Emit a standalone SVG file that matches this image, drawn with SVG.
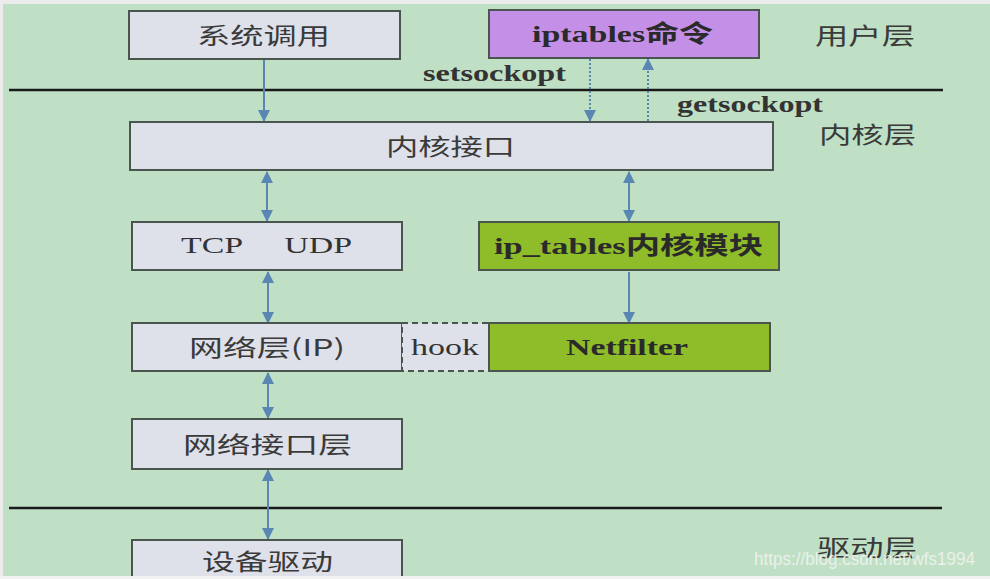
<svg xmlns="http://www.w3.org/2000/svg" width="990" height="579" viewBox="0 0 990 579">
<defs>
<marker id="ah" viewBox="0 0 12 12" refX="11" refY="6" markerWidth="12" markerHeight="13" markerUnits="userSpaceOnUse" orient="auto-start-reverse">
<path d="M0,0 L12,6 L0,12 Z" fill="#5a86b4"/>
</marker>
</defs>
<style>
.box{fill:#dfe1ea;stroke:#4a5550;stroke-width:2}
.purple{fill:#c48fe6;stroke:#4a5550;stroke-width:2}
.green{fill:#8fbd2a;stroke:#4a5550;stroke-width:2}
.zh{font-family:"Noto Sans CJK SC","Liberation Serif",serif;font-size:23px;fill:#3a3a3a}
.en{font-family:"Liberation Serif",serif;font-size:23px;fill:#333}
.b{font-family:"Liberation Serif","Noto Sans CJK SC",serif;font-size:24px;font-weight:bold;fill:#2a2a2a}
.conn{stroke:#5a86b4;stroke-width:2;fill:none}
.dot{stroke:#5a86b4;stroke-width:2;fill:none;stroke-dasharray:2 2}
.sep{stroke:#1a1a1a;stroke-width:2.5}
</style>
<rect x="0" y="0" width="990" height="579" fill="#ececec"/>
<rect x="3" y="4" width="987" height="572" fill="#bfe0c4"/>

<g id="separators">
<line class="sep" x1="9" y1="90" x2="943" y2="90"/>
<line class="sep" x1="9" y1="508" x2="942" y2="508"/>
</g>

<g id="layer-labels">
<text class="zh" x="815" y="44" textLength="100" lengthAdjust="spacingAndGlyphs">用户层</text>
<text class="zh" x="819" y="143" textLength="97" lengthAdjust="spacingAndGlyphs">内核层</text>
<text class="zh" x="817" y="556" textLength="100" lengthAdjust="spacingAndGlyphs">驱动层</text>
</g>

<g id="connectors">
<line class="conn" x1="264" y1="60" x2="264" y2="121" marker-end="url(#ah)"/>
<line class="dot" x1="590" y1="59" x2="590" y2="121" marker-end="url(#ah)"/>
<line class="dot" x1="648" y1="121" x2="648" y2="59" marker-end="url(#ah)"/>
<line class="conn" x1="267" y1="172" x2="267" y2="221" marker-start="url(#ah)" marker-end="url(#ah)"/>
<line class="conn" x1="629" y1="172" x2="629" y2="221" marker-start="url(#ah)" marker-end="url(#ah)"/>
<line class="conn" x1="268" y1="272" x2="268" y2="323" marker-start="url(#ah)" marker-end="url(#ah)"/>
<line class="conn" x1="629" y1="272" x2="629" y2="323" marker-end="url(#ah)"/>
<line class="conn" x1="268" y1="373" x2="268" y2="418" marker-start="url(#ah)" marker-end="url(#ah)"/>
<line class="conn" x1="268" y1="470" x2="268" y2="539" marker-start="url(#ah)" marker-end="url(#ah)"/>
<text class="en" x="423" y="81" font-weight="bold" textLength="143" lengthAdjust="spacingAndGlyphs">setsockopt</text>
<text class="en" x="677" y="112" font-weight="bold" textLength="146" lengthAdjust="spacingAndGlyphs">getsockopt</text>
</g>

<g id="syscall">
<rect class="box" x="129" y="11" width="271" height="48"/>
<text class="zh" x="197" y="44" textLength="133" lengthAdjust="spacingAndGlyphs">系统调用</text>
</g>

<g id="iptables-cmd">
<rect class="purple" x="489" y="10" width="270" height="48"/>
<text class="b" x="532" y="42" textLength="181" lengthAdjust="spacingAndGlyphs">iptables命令</text>
</g>

<g id="kernel-interface">
<rect class="box" x="130" y="122" width="643" height="48"/>
<text class="zh" x="386" y="155" textLength="129" lengthAdjust="spacingAndGlyphs">内核接口</text>
</g>

<g id="tcp-udp">
<rect class="box" x="132" y="222" width="270" height="48"/>
<text class="en" x="181" y="253" textLength="171" lengthAdjust="spacingAndGlyphs" xml:space="preserve">TCP     UDP</text>
</g>

<g id="ip-tables-module">
<rect class="green" x="479" y="222" width="300" height="48"/>
<text class="b" x="494" y="254" textLength="269" lengthAdjust="spacingAndGlyphs">ip_tables内核模块</text>
</g>

<g id="network-layer">
<rect class="box" x="132" y="323" width="270" height="48"/>
<text class="zh" x="189" y="356" textLength="156" lengthAdjust="spacingAndGlyphs">网络层(IP)</text>
</g>

<g id="hook">
<rect x="402" y="323" width="87" height="48" fill="#dfe1ea" stroke="#4a5550" stroke-width="2" stroke-dasharray="6 4"/>
<text class="en" x="411" y="355" textLength="68" lengthAdjust="spacingAndGlyphs">hook</text>
</g>

<g id="netfilter">
<rect class="green" x="489" y="323" width="281" height="48"/>
<text class="b" x="566" y="355" textLength="122" lengthAdjust="spacingAndGlyphs">Netfilter</text>
</g>

<g id="network-interface">
<rect class="box" x="132" y="419" width="270" height="50"/>
<text class="zh" x="183" y="453" textLength="169" lengthAdjust="spacingAndGlyphs">网络接口层</text>
</g>

<g id="device-driver">
<rect class="box" x="132" y="540" width="270" height="50"/>
<text class="zh" x="202" y="570" textLength="131" lengthAdjust="spacingAndGlyphs">设备驱动</text>
</g>

<text x="754" y="565" font-family="Liberation Sans, sans-serif" font-size="18" fill="#f4f4f4" fill-opacity="0.85" textLength="221" lengthAdjust="spacingAndGlyphs">https://blog.csdn.net/wfs1994</text>
<rect x="0" y="576" width="990" height="3" fill="#f2f2f2"/>
</svg>
